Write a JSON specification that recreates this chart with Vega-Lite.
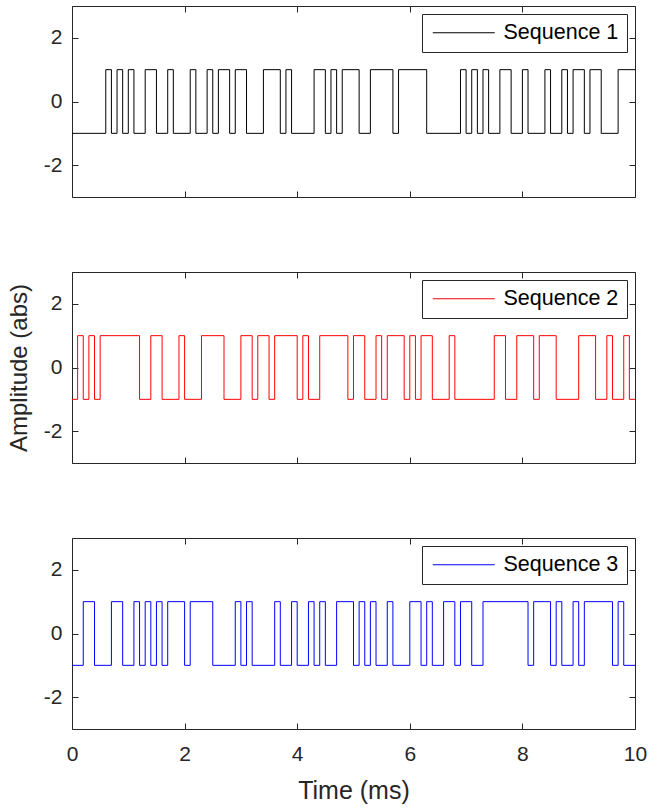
{
  "$schema": "https://vega.github.io/schema/vega-lite/v6.json",
  "padding": {"left": 6, "top": 5, "right": 5, "bottom": 3},
  "datasets": {
    "seqs": [
      {"seq": "Sequence 1", "t": 0, "v": -1}, {"seq": "Sequence 1", "t": 0.6, "v": 1}, {"seq": "Sequence 1", "t": 0.7, "v": -1}, {"seq": "Sequence 1", "t": 0.8, "v": 1}, {"seq": "Sequence 1", "t": 0.9, "v": -1}, {"seq": "Sequence 1", "t": 1.0, "v": 1}, {"seq": "Sequence 1", "t": 1.1, "v": -1}, {"seq": "Sequence 1", "t": 1.3, "v": 1}, {"seq": "Sequence 1", "t": 1.5, "v": -1}, {"seq": "Sequence 1", "t": 1.7, "v": 1}, {"seq": "Sequence 1", "t": 1.8, "v": -1}, {"seq": "Sequence 1", "t": 2.1, "v": 1}, {"seq": "Sequence 1", "t": 2.2, "v": -1}, {"seq": "Sequence 1", "t": 2.4, "v": 1}, {"seq": "Sequence 1", "t": 2.5, "v": -1}, {"seq": "Sequence 1", "t": 2.6, "v": 1}, {"seq": "Sequence 1", "t": 2.8, "v": -1}, {"seq": "Sequence 1", "t": 2.9, "v": 1}, {"seq": "Sequence 1", "t": 3.1, "v": -1}, {"seq": "Sequence 1", "t": 3.4, "v": 1}, {"seq": "Sequence 1", "t": 3.7, "v": -1}, {"seq": "Sequence 1", "t": 3.8, "v": 1}, {"seq": "Sequence 1", "t": 3.9, "v": -1}, {"seq": "Sequence 1", "t": 4.3, "v": 1}, {"seq": "Sequence 1", "t": 4.5, "v": -1}, {"seq": "Sequence 1", "t": 4.6, "v": 1}, {"seq": "Sequence 1", "t": 4.7, "v": -1}, {"seq": "Sequence 1", "t": 4.8, "v": 1}, {"seq": "Sequence 1", "t": 5.1, "v": -1}, {"seq": "Sequence 1", "t": 5.3, "v": 1}, {"seq": "Sequence 1", "t": 5.7, "v": -1}, {"seq": "Sequence 1", "t": 5.8, "v": 1}, {"seq": "Sequence 1", "t": 6.3, "v": -1}, {"seq": "Sequence 1", "t": 6.9, "v": 1}, {"seq": "Sequence 1", "t": 7.0, "v": -1}, {"seq": "Sequence 1", "t": 7.1, "v": 1}, {"seq": "Sequence 1", "t": 7.2, "v": -1}, {"seq": "Sequence 1", "t": 7.3, "v": 1}, {"seq": "Sequence 1", "t": 7.4, "v": -1}, {"seq": "Sequence 1", "t": 7.6, "v": 1}, {"seq": "Sequence 1", "t": 7.8, "v": -1}, {"seq": "Sequence 1", "t": 8.0, "v": 1}, {"seq": "Sequence 1", "t": 8.1, "v": -1}, {"seq": "Sequence 1", "t": 8.4, "v": 1}, {"seq": "Sequence 1", "t": 8.5, "v": -1}, {"seq": "Sequence 1", "t": 8.7, "v": 1}, {"seq": "Sequence 1", "t": 8.8, "v": -1}, {"seq": "Sequence 1", "t": 8.9, "v": 1}, {"seq": "Sequence 1", "t": 9.1, "v": -1}, {"seq": "Sequence 1", "t": 9.2, "v": 1}, {"seq": "Sequence 1", "t": 9.4, "v": -1}, {"seq": "Sequence 1", "t": 9.7, "v": 1}, {"seq": "Sequence 1", "t": 10, "v": 1},
      {"seq": "Sequence 2", "t": 0, "v": -1}, {"seq": "Sequence 2", "t": 0.1, "v": 1}, {"seq": "Sequence 2", "t": 0.2, "v": -1}, {"seq": "Sequence 2", "t": 0.3, "v": 1}, {"seq": "Sequence 2", "t": 0.4, "v": -1}, {"seq": "Sequence 2", "t": 0.5, "v": 1}, {"seq": "Sequence 2", "t": 1.2, "v": -1}, {"seq": "Sequence 2", "t": 1.4, "v": 1}, {"seq": "Sequence 2", "t": 1.6, "v": -1}, {"seq": "Sequence 2", "t": 1.9, "v": 1}, {"seq": "Sequence 2", "t": 2.0, "v": -1}, {"seq": "Sequence 2", "t": 2.3, "v": 1}, {"seq": "Sequence 2", "t": 2.7, "v": -1}, {"seq": "Sequence 2", "t": 3.0, "v": 1}, {"seq": "Sequence 2", "t": 3.2, "v": -1}, {"seq": "Sequence 2", "t": 3.3, "v": 1}, {"seq": "Sequence 2", "t": 3.5, "v": -1}, {"seq": "Sequence 2", "t": 3.6, "v": 1}, {"seq": "Sequence 2", "t": 4.0, "v": -1}, {"seq": "Sequence 2", "t": 4.1, "v": 1}, {"seq": "Sequence 2", "t": 4.2, "v": -1}, {"seq": "Sequence 2", "t": 4.4, "v": 1}, {"seq": "Sequence 2", "t": 4.9, "v": -1}, {"seq": "Sequence 2", "t": 5.0, "v": 1}, {"seq": "Sequence 2", "t": 5.2, "v": -1}, {"seq": "Sequence 2", "t": 5.4, "v": 1}, {"seq": "Sequence 2", "t": 5.5, "v": -1}, {"seq": "Sequence 2", "t": 5.6, "v": 1}, {"seq": "Sequence 2", "t": 5.9, "v": -1}, {"seq": "Sequence 2", "t": 6.0, "v": 1}, {"seq": "Sequence 2", "t": 6.1, "v": -1}, {"seq": "Sequence 2", "t": 6.2, "v": 1}, {"seq": "Sequence 2", "t": 6.4, "v": -1}, {"seq": "Sequence 2", "t": 6.7, "v": 1}, {"seq": "Sequence 2", "t": 6.8, "v": -1}, {"seq": "Sequence 2", "t": 7.5, "v": 1}, {"seq": "Sequence 2", "t": 7.7, "v": -1}, {"seq": "Sequence 2", "t": 7.9, "v": 1}, {"seq": "Sequence 2", "t": 8.2, "v": -1}, {"seq": "Sequence 2", "t": 8.3, "v": 1}, {"seq": "Sequence 2", "t": 8.6, "v": -1}, {"seq": "Sequence 2", "t": 9.0, "v": 1}, {"seq": "Sequence 2", "t": 9.3, "v": -1}, {"seq": "Sequence 2", "t": 9.5, "v": 1}, {"seq": "Sequence 2", "t": 9.6, "v": -1}, {"seq": "Sequence 2", "t": 9.8, "v": 1}, {"seq": "Sequence 2", "t": 9.9, "v": -1}, {"seq": "Sequence 2", "t": 10, "v": -1},
      {"seq": "Sequence 3", "t": 0, "v": -1}, {"seq": "Sequence 3", "t": 0.2, "v": 1}, {"seq": "Sequence 3", "t": 0.4, "v": -1}, {"seq": "Sequence 3", "t": 0.7, "v": 1}, {"seq": "Sequence 3", "t": 0.9, "v": -1}, {"seq": "Sequence 3", "t": 1.1, "v": 1}, {"seq": "Sequence 3", "t": 1.2, "v": -1}, {"seq": "Sequence 3", "t": 1.3, "v": 1}, {"seq": "Sequence 3", "t": 1.4, "v": -1}, {"seq": "Sequence 3", "t": 1.5, "v": 1}, {"seq": "Sequence 3", "t": 1.6, "v": -1}, {"seq": "Sequence 3", "t": 1.7, "v": 1}, {"seq": "Sequence 3", "t": 2.0, "v": -1}, {"seq": "Sequence 3", "t": 2.1, "v": 1}, {"seq": "Sequence 3", "t": 2.5, "v": -1}, {"seq": "Sequence 3", "t": 2.9, "v": 1}, {"seq": "Sequence 3", "t": 3.0, "v": -1}, {"seq": "Sequence 3", "t": 3.1, "v": 1}, {"seq": "Sequence 3", "t": 3.2, "v": -1}, {"seq": "Sequence 3", "t": 3.6, "v": 1}, {"seq": "Sequence 3", "t": 3.7, "v": -1}, {"seq": "Sequence 3", "t": 3.9, "v": 1}, {"seq": "Sequence 3", "t": 4.0, "v": -1}, {"seq": "Sequence 3", "t": 4.2, "v": 1}, {"seq": "Sequence 3", "t": 4.3, "v": -1}, {"seq": "Sequence 3", "t": 4.4, "v": 1}, {"seq": "Sequence 3", "t": 4.5, "v": -1}, {"seq": "Sequence 3", "t": 4.7, "v": 1}, {"seq": "Sequence 3", "t": 5.0, "v": -1}, {"seq": "Sequence 3", "t": 5.1, "v": 1}, {"seq": "Sequence 3", "t": 5.2, "v": -1}, {"seq": "Sequence 3", "t": 5.3, "v": 1}, {"seq": "Sequence 3", "t": 5.4, "v": -1}, {"seq": "Sequence 3", "t": 5.6, "v": 1}, {"seq": "Sequence 3", "t": 5.7, "v": -1}, {"seq": "Sequence 3", "t": 6.0, "v": 1}, {"seq": "Sequence 3", "t": 6.2, "v": -1}, {"seq": "Sequence 3", "t": 6.3, "v": 1}, {"seq": "Sequence 3", "t": 6.4, "v": -1}, {"seq": "Sequence 3", "t": 6.6, "v": 1}, {"seq": "Sequence 3", "t": 6.8, "v": -1}, {"seq": "Sequence 3", "t": 6.9, "v": 1}, {"seq": "Sequence 3", "t": 7.1, "v": -1}, {"seq": "Sequence 3", "t": 7.3, "v": 1}, {"seq": "Sequence 3", "t": 8.1, "v": -1}, {"seq": "Sequence 3", "t": 8.2, "v": 1}, {"seq": "Sequence 3", "t": 8.5, "v": -1}, {"seq": "Sequence 3", "t": 8.6, "v": 1}, {"seq": "Sequence 3", "t": 8.7, "v": -1}, {"seq": "Sequence 3", "t": 8.9, "v": 1}, {"seq": "Sequence 3", "t": 9.0, "v": -1}, {"seq": "Sequence 3", "t": 9.1, "v": 1}, {"seq": "Sequence 3", "t": 9.6, "v": -1}, {"seq": "Sequence 3", "t": 9.7, "v": 1}, {"seq": "Sequence 3", "t": 9.8, "v": -1}, {"seq": "Sequence 3", "t": 10, "v": -1}
    ]
  },
  "spacing": 73,
  "vconcat": [
    {
      "width": 563, "height": 191,
      "data": {"name": "seqs"},
      "transform": [{"filter": {"field": "seq", "equal": "Sequence 1"}}],
      "layer": [
        {
          "mark": {"type": "line", "interpolate": "step-after", "strokeWidth": 1},
          "encoding": {
            "x": {"field": "t", "type": "quantitative", "scale": {"domain": [0, 10], "nice": false, "zero": false},
                  "axis": {"orient": "bottom", "values": [0, 2, 4, 6, 8, 10], "labels": false, "title": null}},
            "y": {"field": "v", "type": "quantitative", "scale": {"domain": [-3, 3], "nice": false},
                  "axis": {"orient": "left", "values": [-2, 0, 2], "labelExpr": "'' + datum.value", "title": null}},
            "color": {"field": "seq", "type": "nominal", "scale": {"domain": ["Sequence 1"], "range": ["#000000"]}, "legend": {"title": null}}
          }
        },
        {
          "mark": {"type": "line", "interpolate": "step-after", "strokeOpacity": 0},
          "encoding": {
            "x": {"field": "t", "type": "quantitative", "axis": {"orient": "top", "values": [0, 2, 4, 6, 8, 10], "labels": false, "title": null}},
            "y": {"field": "v", "type": "quantitative", "axis": {"orient": "right", "values": [-2, 0, 2], "labels": false, "title": null}}
          }
        }
      ],
      "resolve": {"axis": {"x": "independent", "y": "independent"}}
    },
    {
      "width": 563, "height": 191,
      "data": {"name": "seqs"},
      "transform": [{"filter": {"field": "seq", "equal": "Sequence 2"}}],
      "layer": [
        {
          "mark": {"type": "line", "interpolate": "step-after", "strokeWidth": 1},
          "encoding": {
            "x": {"field": "t", "type": "quantitative", "scale": {"domain": [0, 10], "nice": false, "zero": false},
                  "axis": {"orient": "bottom", "values": [0, 2, 4, 6, 8, 10], "labels": false, "title": null}},
            "y": {"field": "v", "type": "quantitative", "scale": {"domain": [-3, 3], "nice": false},
                  "axis": {"orient": "left", "values": [-2, 0, 2], "labelExpr": "'' + datum.value", "title": "Amplitude (abs)", "titleFontSize": 24}},
            "color": {"field": "seq", "type": "nominal", "scale": {"domain": ["Sequence 2"], "range": ["#ff0000"]}, "legend": {"title": null}}
          }
        },
        {
          "mark": {"type": "line", "interpolate": "step-after", "strokeOpacity": 0},
          "encoding": {
            "x": {"field": "t", "type": "quantitative", "axis": {"orient": "top", "values": [0, 2, 4, 6, 8, 10], "labels": false, "title": null}},
            "y": {"field": "v", "type": "quantitative", "axis": {"orient": "right", "values": [-2, 0, 2], "labels": false, "title": null}}
          }
        }
      ],
      "resolve": {"axis": {"x": "independent", "y": "independent"}}
    },
    {
      "width": 563, "height": 191,
      "data": {"name": "seqs"},
      "transform": [{"filter": {"field": "seq", "equal": "Sequence 3"}}],
      "layer": [
        {
          "mark": {"type": "line", "interpolate": "step-after", "strokeWidth": 1},
          "encoding": {
            "x": {"field": "t", "type": "quantitative", "scale": {"domain": [0, 10], "nice": false, "zero": false},
                  "axis": {"orient": "bottom", "values": [0, 2, 4, 6, 8, 10], "title": "Time (ms)", "titleFontSize": 25}},
            "y": {"field": "v", "type": "quantitative", "scale": {"domain": [-3, 3], "nice": false},
                  "axis": {"orient": "left", "values": [-2, 0, 2], "labelExpr": "'' + datum.value", "title": null}},
            "color": {"field": "seq", "type": "nominal", "scale": {"domain": ["Sequence 3"], "range": ["#0000ff"]}, "legend": {"title": null}}
          }
        },
        {
          "mark": {"type": "line", "interpolate": "step-after", "strokeOpacity": 0},
          "encoding": {
            "x": {"field": "t", "type": "quantitative", "axis": {"orient": "top", "values": [0, 2, 4, 6, 8, 10], "labels": false, "title": null}},
            "y": {"field": "v", "type": "quantitative", "axis": {"orient": "right", "values": [-2, 0, 2], "labels": false, "title": null}}
          }
        }
      ],
      "resolve": {"axis": {"x": "independent", "y": "independent"}}
    }
  ],
  "resolve": {"scale": {"color": "independent"}, "legend": {"color": "independent"}},
  "config": {
    "font": "Liberation Sans",
    "view": {"stroke": "#262626", "strokeWidth": 1},
    "axis": {
      "domain": false, "grid": false,
      "tickColor": "#262626", "tickSize": -6, "tickWidth": 1,
      "labelColor": "#262626", "labelFontSize": 21, "labelFont": "Liberation Sans",
      "labelFlush": false, "labelOverlap": false,
      "titleColor": "#262626", "titleFontSize": 24, "titleFontWeight": "normal", "titleFont": "Liberation Sans"
    },
    "axisBottom": {"labelPadding": 20, "titlePadding": 14},
    "axisTop": {"labelPadding": 0},
    "axisLeft": {"labelPadding": 16, "titlePadding": 12},
    "axisRight": {"labelPadding": 0},
    "legend": {
      "orient": "top-right", "offset": 8,
      "strokeColor": "#262626", "fillColor": "#ffffff", "padding": 8, "cornerRadius": 0,
      "symbolType": "M-0.8,0H5.4", "symbolSize": 400, "symbolStrokeWidth": 1,
      "labelFontSize": 21.5, "labelFont": "Liberation Sans", "labelColor": "#000000", "labelOffset": 52, "labelLimit": 300
    }
  }
}
